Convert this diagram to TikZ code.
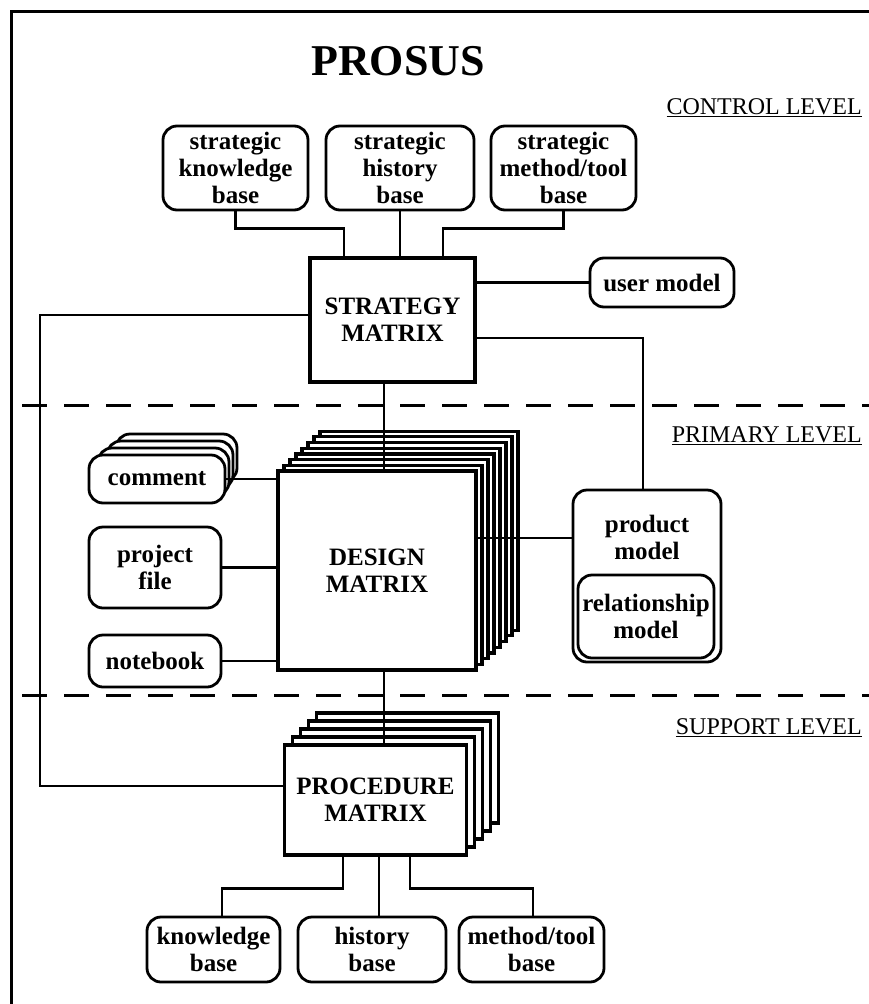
\documentclass[tikz,border=0pt]{standalone}
\usepackage{fontspec}
\setmainfont{Liberation Serif}
\begin{document}
\begin{tikzpicture}[x=1pt,y=-1pt,
  boxfont/.style={font=\bfseries\fontsize{25}{27}\selectfont},
  rbox/.style={draw, line width=2.8pt, rounded corners=14pt, fill=white, align=center, inner sep=0pt, boxfont},
  mbox/.style={draw, line width=3.2pt, fill=white, align=center, inner sep=0pt, boxfont},
  conn/.style={line width=2.6pt},
  levelsep/.style={line width=3pt, dash pattern=on 25pt off 17pt},
  levellabel/.style={anchor=east, inner sep=0pt, font=\fontsize{24}{26}\selectfont},
  frameline/.style={line width=3pt}]
\useasboundingbox (0,0) rectangle (869,1004);
% frame
\coordinate (ftl) at (11,11);
\coordinate (ftr) at (869,11);
\coordinate (fbl) at (11,1004);
\draw[frameline] (ftr) -- (ftl) -- (fbl);
% title
\node[font=\bfseries\fontsize{44}{46}\selectfont, inner sep=0pt] (title) at (398,61) {PROSUS};
% level labels
\node[levellabel] (lctl) at (862,108) {\underline{CONTROL LEVEL}};
\node[levellabel] (lpri) at (862,436) {\underline{PRIMARY LEVEL}};
\node[levellabel] (lsup) at (862,728) {\underline{SUPPORT LEVEL}};
% dashed separators
\coordinate (d1a) at (22,405); \coordinate (d1b) at (869,405);
\coordinate (d2a) at (22,695); \coordinate (d2b) at (869,695);
\draw[levelsep] (d1a) -- (d1b);
\draw[levelsep] (d2a) -- (d2b);
% control level
\node[rbox, minimum width=145pt, minimum height=84pt] (skb) at (235.5,168) {strategic\\knowledge\\base};
\node[rbox, minimum width=148pt, minimum height=84pt] (shb) at (400,168) {strategic\\history\\base};
\node[rbox, minimum width=145pt, minimum height=84pt] (smtb) at (563.5,168) {strategic\\method/tool\\base};
\node[mbox, minimum width=165pt, minimum height=124pt] (strat) at (392.5,320) {STRATEGY\\MATRIX};
\node[rbox, minimum width=144pt, minimum height=49pt] (user) at (662,282.5) {user model};
% design matrix stack
\foreach \i in {7,6,...,1}{
  \node[mbox, minimum width=198pt, minimum height=199pt] (dl\i) at (377+6*\i,570.5-5.7*\i) {};
}
\node[mbox, minimum width=198pt, minimum height=199pt] (design) at (377,570.5) {DESIGN\\MATRIX};
% comment stack
\foreach \i in {3,2,1}{
  \node[rbox, minimum width=136-5*\i, minimum height=48pt] (cl\i) at (157+6.5*\i,479-7*\i) {};
}
\node[rbox, minimum width=136pt, minimum height=48pt] (comment) at (157,479) {comment};
\node[rbox, minimum width=132pt, minimum height=81pt] (project) at (155,567.5) {project\\file};
\node[rbox, minimum width=132pt, minimum height=52pt] (notebook) at (155,661) {notebook};
% product model
\node[rbox, minimum width=148pt, minimum height=172pt] (prod) at (647,576) {};
\node[boxfont, align=center, inner sep=0pt] (prodtxt) at (647,537) {product\\model};
\node[rbox, minimum width=136pt, minimum height=83pt] (rel) at (646,616.5) {relationship\\model};
% procedure matrix stack
\foreach \i in {4,3,2,1}{
  \node[mbox, minimum width=182pt, minimum height=110pt] (pl\i) at (375.5+8*\i,800-8*\i) {};
}
\node[mbox, minimum width=182pt, minimum height=110pt] (proc) at (375.5,800) {PROCEDURE\\MATRIX};
% support level bases
\node[rbox, minimum width=133pt, minimum height=65pt] (kb) at (213.5,949.5) {knowledge\\base};
\node[rbox, minimum width=148pt, minimum height=65pt] (hb) at (372,949.5) {history\\base};
\node[rbox, minimum width=145pt, minimum height=65pt] (mtb) at (531.5,949.5) {method/tool\\base};
% connectors: control level
\draw[conn] (skb.south) -- ++(0,17) -| ([xshift=-48.5pt]strat.north);
\draw[conn] (shb.south) -- (shb.south |- strat.north);
\draw[conn] (smtb.south) -- ++(0,17) -| ([xshift=50.5pt]strat.north);
\draw[conn] (user.west) -- (user.west -| strat.east);
\coordinate (lc) at (40,550);
\draw[conn] ([yshift=5pt]strat.west) -| (lc) |- ([yshift=14pt]proc.west);
\draw[conn] ([yshift=-18pt]strat.east) -| ([xshift=-4pt]prod.north);
% vertical spine
\coordinate (vx) at (384,0);
\draw[conn] (strat.south -| vx) -- (design.north -| vx);
\draw[conn] (design.south -| vx) -- (proc.north -| vx);
% primary level connectors
\draw[conn] (comment.east) -- (comment.east -| design.west);
\draw[conn] (project.east) -- (project.east -| design.west);
\draw[conn] (notebook.east) -- (notebook.east -| design.west);
\draw[conn] ([yshift=38pt]prod.west) -- ([yshift=38pt]prod.west -| design.east);
% support level connectors
\draw[conn] ([xshift=-32.5pt]proc.south) -- ++(0,32) -| ([xshift=8.5pt]kb.north);
\draw[conn] ([xshift=3.5pt]proc.south) -- ([xshift=3.5pt]proc.south |- hb.north);
\draw[conn] ([xshift=34.5pt]proc.south) -- ++(0,32) -| ([xshift=1.5pt]mtb.north);
\end{tikzpicture}
\end{document}
